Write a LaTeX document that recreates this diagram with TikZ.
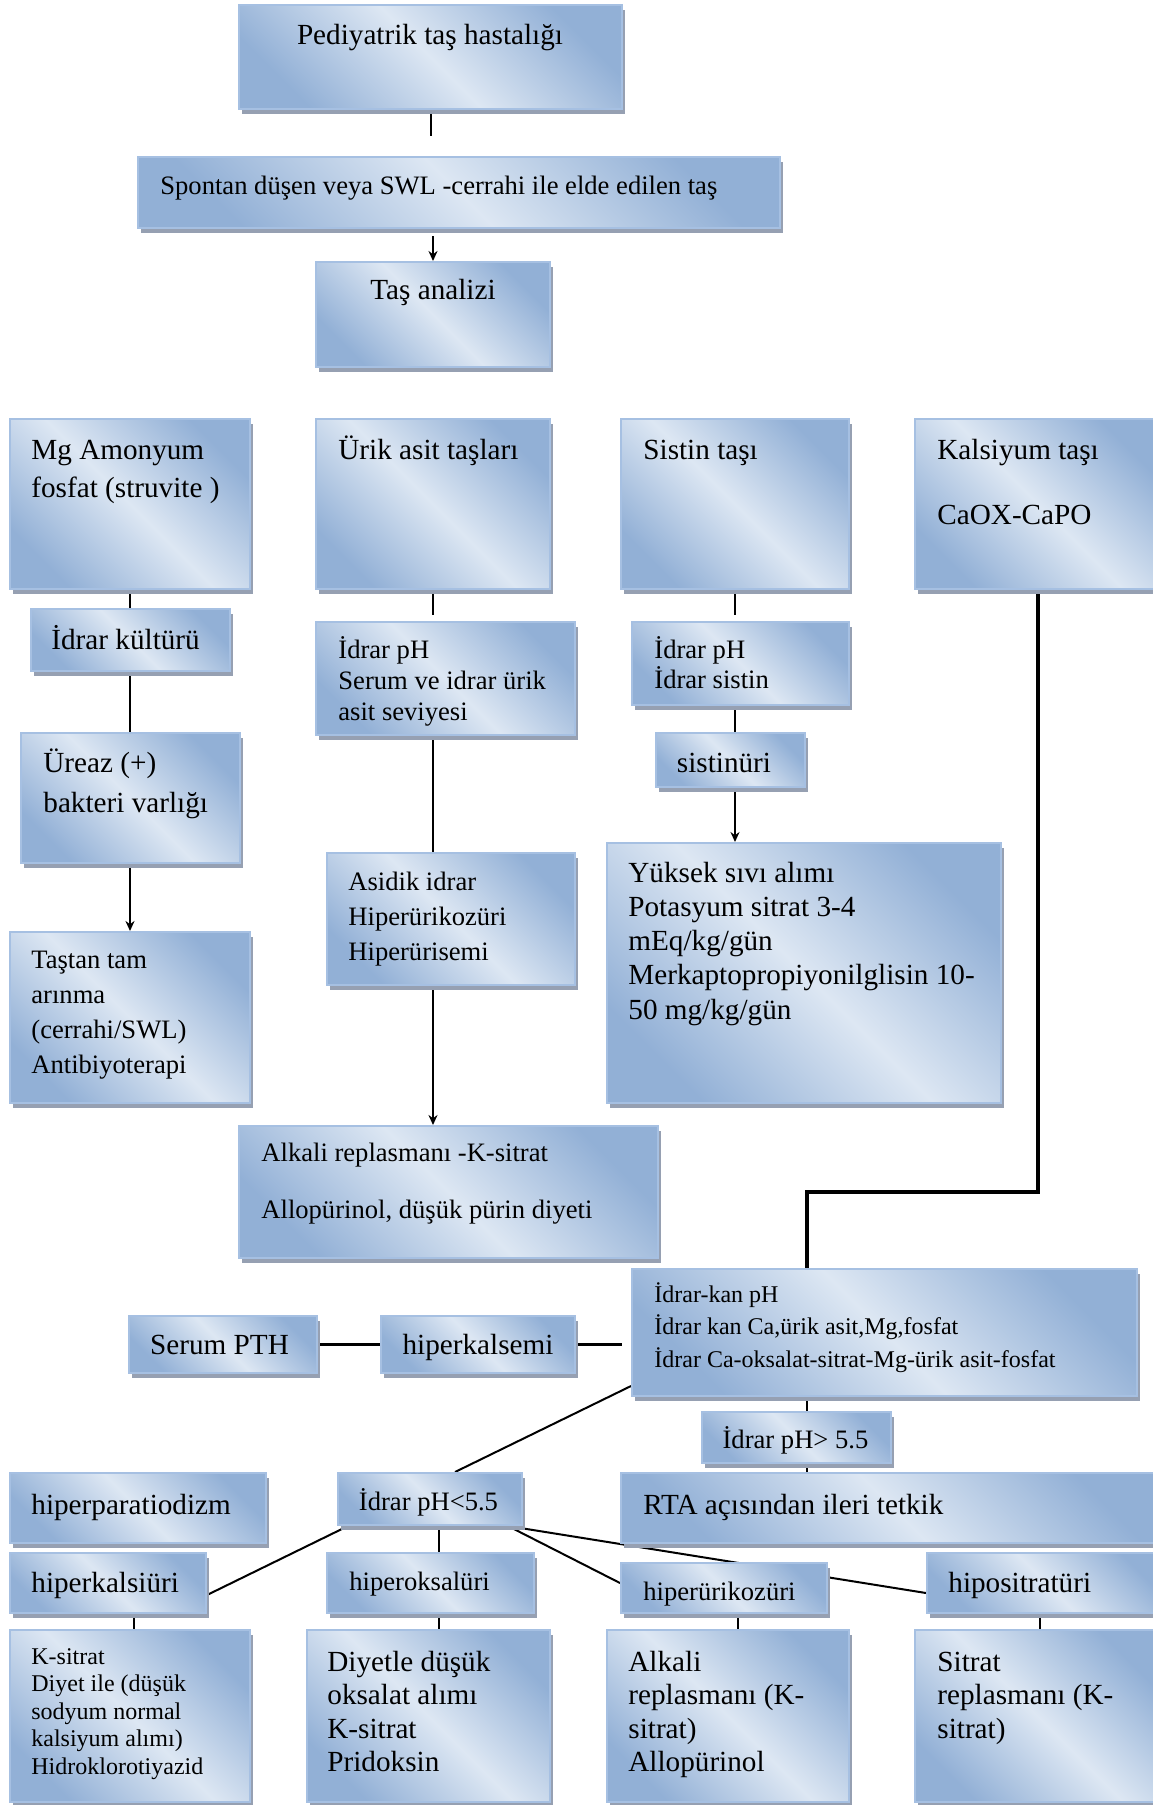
\documentclass[tikz,border=0pt]{standalone}
\usepackage{fontspec}
\setmainfont{Liberation Serif}
\usetikzlibrary{fit,shadows,arrows.meta,calc}
\definecolor{bdark}{RGB}{146,176,214}
\definecolor{blight}{RGB}{221,231,243}
\definecolor{bord}{RGB}{166,192,226}
\definecolor{shgray}{RGB}{150,160,178}
\pgfdeclarehorizontalshading{boxshade}{100bp}{color(0bp)=(bdark); color(25bp)=(bdark); color(50bp)=(blight); color(75bp)=(bdark); color(100bp)=(bdark)}
\pgfdeclarelayer{bg}
\pgfsetlayers{bg,main}
\newcommand\tb[1]{\parbox[t]{500pt}{\raggedright #1}}
\tikzset{
  box/.style={inner sep=0pt, draw=bord, line width=1pt, shading=boxshade, shading angle=45,
    drop shadow={shadow xshift=1.5pt, shadow yshift=-2.5pt, fill=shgray, opacity=1}},
  txt/.style={inner sep=0pt, anchor=base west},
  ctxt/.style={inner sep=0pt, anchor=base},
  fA/.style={font=\fontsize{13.3pt}{#1}\selectfont},
  fA/.default=16pt,
  fB/.style={font=\fontsize{14.6pt}{#1}\selectfont},
  fB/.default=17pt,
  fC/.style={font=\fontsize{12pt}{#1}\selectfont},
  fC/.default=14pt,
  conn/.style={line width=1pt, draw=black},
  tconn/.style={line width=1.75pt, draw=black},
  arr/.style={conn, -{Stealth[length=5pt,width=4.5pt]}}
}
\begin{document}
\begin{tikzpicture}[x=0.5pt,y=-0.5pt]
\useasboundingbox (0,0) rectangle (1152,1805);
% ---------- boxes ----------
\node[box, fit={(239,5) (622,109)}] (ped) {};
\node[box, fit={(138,157) (780,228)}] (spo) {};
\node[box, fit={(316,262) (550,367)}] (tas) {};
\node[box, fit={(10,419) (250,589)}] (mg) {};
\node[box, fit={(316,419) (550,589)}] (urik) {};
\node[box, fit={(621,419) (849,589)}] (sis) {};
\node[box, fit={(915,419) (1161,589)}] (kal) {};
\node[box, fit={(31,609) (230,671)}] (kul) {};
\node[box, fit={(21,733) (240,863)}] (ure) {};
\node[box, fit={(10,932) (250,1103)}] (tam) {};
\node[box, fit={(316,622) (575,735)}] (uph) {};
\node[box, fit={(327,853) (575,985)}] (asi) {};
\node[box, fit={(239,1126) (658,1258)}] (alk) {};
\node[box, fit={(632,622) (849,705)}] (sph) {};
\node[box, fit={(656,733) (805,787)}] (snu) {};
\node[box, fit={(607,843) (1001,1103)}] (yuk) {};
\node[box, fit={(632,1269) (1137,1396)}] (kan) {};
\node[box, fit={(129,1316) (317,1373)}] (pth) {};
\node[box, fit={(381,1316) (575,1373)}] (hks) {};
\node[box, fit={(702,1412) (891,1463)}] (gt) {};
\node[box, fit={(621,1473) (1165,1543)}] (rta) {};
\node[box, fit={(10,1473) (266,1543)}] (hpt) {};
\node[box, fit={(338,1473) (522,1525)}] (lt) {};
\node[box, fit={(10,1553) (206,1613)}] (hku) {};
\node[box, fit={(327,1553) (534,1613)}] (hok) {};
\node[box, fit={(621,1563) (827,1613)}] (huk) {};
\node[box, fit={(927,1553) (1165,1613)}] (hsi) {};
\node[box, fit={(10,1630) (250,1802)}] (bx1) {};
\node[box, fit={(307,1630) (550,1802)}] (bx2) {};
\node[box, fit={(607,1630) (849,1802)}] (bx3) {};
\node[box, fit={(915,1630) (1160,1802)}] (bx4) {};
% ---------- texts ----------
\node[ctxt,fB] (t-ped) at (430,44) {Pediyatrik taş hastalığı};
\node[txt,fA] (t-spo) at (160,194) {Spontan düşen veya SWL -cerrahi ile elde edilen taş};
\node[ctxt,fB] (t-tas) at (433,299) {Taş analizi};
\node[txt,fB=19pt] (t-mg) at (31,459) {\tb{Mg Amonyum\\fosfat (struvite )}};
\node[txt,fB] (t-urik) at (338,459) {Ürik asit taşları};
\node[txt,fB] (t-sis) at (643,459) {Sistin taşı};
\node[txt,fB=32.5pt] (t-kal) at (937,459) {\tb{Kalsiyum taşı\\CaOX-CaPO}};
\node[txt,fB] (t-kul) at (51,649) {İdrar kültürü};
\node[txt,fB=20pt] (t-ure) at (43,772) {\tb{Üreaz (+)\\bakteri varlığı}};
\node[txt,fA=17.65pt] (t-tam) at (31,968) {\tb{Taştan tam\\arınma\\(cerrahi/SWL)\\Antibiyoterapi}};
\node[txt,fA=15.5pt] (t-uph) at (338,658) {\tb{İdrar pH\\Serum ve idrar ürik\\asit seviyesi}};
\node[txt,fA=17.5pt] (t-asi) at (348,890) {\tb{Asidik idrar\\Hiperürikozüri\\Hiperürisemi}};
\node[txt,fA=28.5pt] (t-alk) at (261,1161) {\tb{Alkali replasmanı -K-sitrat\\Allopürinol, düşük pürin diyeti}};
\node[txt,fA=15pt] (t-sph) at (654,658) {\tb{İdrar pH\\İdrar sistin}};
\node[ctxt,fB] (t-snu) at (724,772) {sistinüri};
\node[txt,fB=17.15pt] (t-yuk) at (628,882) {\tb{Yüksek sıvı alımı\\Potasyum sitrat 3-4\\mEq/kg/gün\\Merkaptopropiyonilglisin 10-\\50 mg/kg/gün}};
\node[txt,fC=16.25pt] (t-kan) at (654,1302) {\tb{İdrar-kan pH\\İdrar kan Ca,ürik asit,Mg,fosfat\\İdrar Ca-oksalat-sitrat-Mg-ürik asit-fosfat}};
\node[ctxt,fB] (t-pth) at (219.5,1354) {Serum PTH};
\node[ctxt,fB] (t-hks) at (478,1354) {hiperkalsemi};
\node[ctxt,fA] (t-gt) at (795.5,1448) {İdrar pH> 5.5};
\node[txt,fB] (t-rta) at (643,1514) {RTA açısından ileri tetkik};
\node[txt,fB] (t-hpt) at (31,1514) {hiperparatiodizm};
\node[ctxt,fA] (t-lt) at (428.5,1510) {İdrar pH<5.5};
\node[txt,fB] (t-hku) at (31,1592) {hiperkalsiüri};
\node[txt,fA] (t-hok) at (349,1590) {hiperoksalüri};
\node[txt,fA] (t-huk) at (643,1600) {hiperürikozüri};
\node[txt,fB] (t-hsi) at (948,1592) {hipositratüri};
\node[txt,fC=13.75pt] (t-bx1) at (31,1664) {\tb{K-sitrat\\Diyet ile (düşük\\sodyum normal\\kalsiyum alımı)\\Hidroklorotiyazid}};
\node[txt,fB=16.75pt] (t-bx2) at (327,1671) {\tb{Diyetle düşük\\oksalat alımı\\K-sitrat\\Pridoksin}};
\node[txt,fB=16.75pt] (t-bx3) at (628,1671) {\tb{Alkali\\replasmanı (K-\\sitrat)\\Allopürinol}};
\node[txt,fB=16.75pt] (t-bx4) at (937,1671) {\tb{Sitrat\\replasmanı (K-\\sitrat)}};
% ---------- connectors ----------
\begin{pgfonlayer}{bg}
\draw[conn] (ped.south) -- ([yshift=10pt]ped.south |- spo.north);
\draw[arr] ([yshift=-3.5pt]tas.north |- spo.south) -- (tas.north);
\draw[conn] (mg.south) -- (mg.south |- kul.north);
\draw[conn] (mg.south |- kul.south) -- (mg.south |- ure.north);
\draw[arr] (mg.south |- ure.south) -- (mg.south |- tam.north);
\draw[conn] (urik.south) -- ([yshift=3pt]urik.south |- uph.north);
\draw[conn] (urik.south |- uph.south) -- (urik.south |- asi.north);
\draw[arr] (urik.south |- asi.south) -- (urik.south |- alk.north);
\draw[conn] (sis.south) -- ([yshift=3pt]sis.south |- sph.north);
\draw[conn] (sis.south |- sph.south) -- (sis.south |- snu.north);
\draw[arr] (sis.south |- snu.south) -- (sis.south |- yuk.north);
\coordinate (kj) at (807,1192);
\draw[tconn] (kal.south) |- (kj) -- (kj |- kan.north);
\draw[conn] (kj |- kan.south) -- (kj |- gt.north);
\draw[conn] (kj |- gt.south) -- (kj |- rta.north);
\draw[tconn] (pth.east) -- (hks.west);
\draw[tconn] (hks.east) -- ([xshift=-4.5pt]hks.east -| kan.west);
\draw[conn] ([yshift=5.5pt]kan.south west) -- ([xshift=12.5pt]lt.north);
\draw[conn] ([xshift=5.5pt]lt.south west) -- ([yshift=-6pt]hku.east);
\draw[conn] ([xshift=4.5pt]lt.south) -- ([xshift=4.5pt]lt.south |- hok.north);
\draw[conn] ([xshift=-7.5pt]lt.south east) -- ([yshift=2.5pt]huk.west);
\draw[conn] ([xshift=-7.5pt]lt.south east) -- ([yshift=-5pt]hsi.west);
\draw[conn] ([xshift=2pt]bx1.north |- hku.south) -- ([xshift=2pt]bx1.north);
\draw[conn] ([xshift=5.25pt]bx2.north |- hok.south) -- ([xshift=5.25pt]bx2.north);
\draw[conn] ([xshift=5pt]bx3.north |- huk.south) -- ([xshift=5pt]bx3.north);
\draw[conn] ([xshift=1.25pt]bx4.north |- hsi.south) -- ([xshift=1.25pt]bx4.north);
\end{pgfonlayer}
\end{tikzpicture}
\end{document}
